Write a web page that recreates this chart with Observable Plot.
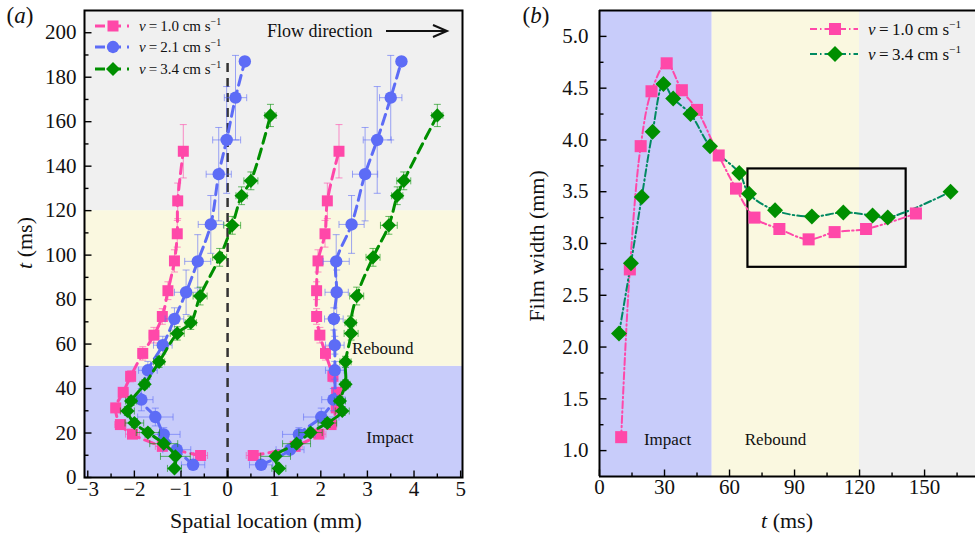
<!DOCTYPE html>
<html>
<head>
<meta charset="utf-8">
<script src="https://cdn.jsdelivr.net/npm/d3@7"></script>
<script src="https://cdn.jsdelivr.net/npm/@observablehq/plot@0.6"></script>
<style>
  html, body { margin: 0; padding: 0; background: #fff; }
  #fig { position: relative; width: 975px; height: 542px; overflow: hidden; }
  #fig svg { position: absolute; top: 0; overflow: visible; }
  #fig svg text { font-family: "Liberation Serif", "Times New Roman", Times, serif !important; }
</style>
</head>
<body>
<div id="fig"></div>
<script>
// ---------------- Panel (a): film-front positions vs time ----------------
// phases (ms)
const phaseNames = ["Impact", "Rebound", "Late"];
const phaseStartA = [0, 50, 120];
const phaseEndA = [50, 120, 210];

// v = 1.0 cm/s
const pinkT     = [9.9, 14.0, 19.5, 23.8, 31.3, 38.3, 45.5, 55.8, 64.0, 72.4, 84.0, 97.4, 109.6, 124.4, 146.7];
const pinkLeft  = [-0.58, -1.40, -2.04, -2.30, -2.40, -2.24, -2.08, -1.82, -1.58, -1.40, -1.28, -1.14, -1.08, -1.07, -0.95];
const pinkRight = [0.55, 1.45, 1.96, 2.22, 2.33, 2.34, 2.26, 2.10, 1.98, 1.91, 1.91, 1.94, 2.09, 2.14, 2.39];
const pinkXErr  = [0.15, 0.15, 0.15, 0.12, 0.1, 0.1, 0.1, 0.1, 0.1, 0.08, 0.08, 0.08, 0.08, 0.08, 0.08];
const pinkTErr  = [1, 1.5, 1.5, 1.5, 2, 2, 2.5, 3, 3.5, 3.5, 4, 5, 6, 8, 12];

// v = 2.1 cm/s
const blueT     = [5.7, 12.5, 19.4, 27.2, 35.0, 48.2, 59.5, 71.3, 83.3, 97.2, 113.8, 136.4, 151.8, 170.8, 187.1];
const blueLeft  = [-0.74, -1.09, -1.37, -1.55, -1.85, -1.71, -1.39, -1.14, -0.89, -0.64, -0.36, -0.19, -0.02, 0.17, 0.37];
const blueRight = [0.72, 1.34, 1.53, 2.01, 2.27, 2.30, 2.30, 2.28, 2.34, 2.33, 2.66, 2.95, 3.21, 3.50, 3.73];
const blueXErr  = [0.25, 0.3, 0.35, 0.38, 0.25, 0.2, 0.2, 0.2, 0.25, 0.28, 0.27, 0.27, 0.3, 0.24, 0.1];
const blueTErr  = [1.5, 2, 3, 4, 5, 4, 4, 5, 10, 12, 13, 21, 24, 19, 2];

// v = 3.4 cm/s
const greenT     = [4.1, 9.5, 15.2, 20.2, 24.5, 29.9, 34.4, 41.9, 52.0, 64.8, 69.6, 81.6, 99.0, 113.4, 126.7, 133.4, 162.8];
const greenLeft  = [-1.14, -1.12, -1.37, -1.71, -2.00, -2.15, -2.07, -1.78, -1.47, -1.08, -0.79, -0.59, -0.17, 0.10, 0.30, 0.50, 0.92];
const greenRight = [1.10, 1.03, 1.48, 1.78, 2.14, 2.46, 2.41, 2.53, 2.53, 2.65, 2.64, 2.77, 3.12, 3.46, 3.64, 3.78, 4.50];
const greenXErr  = [0.15, 0.32, 0.3, 0.25, 0.2, 0.15, 0.12, 0.1, 0.12, 0.15, 0.12, 0.15, 0.15, 0.18, 0.12, 0.15, 0.12];
const greenTErr  = [1, 1.5, 1.5, 2, 2, 2, 2, 2, 2.5, 3, 3, 4, 4, 4, 4, 4, 5];

const centreLineT = [0, 188];

// axis ticks, panel (a)
const xDomA = [-3.07, 5.04];
const tDomA = [0, 210];
const xMajorA = [-3, -2, -1, 0, 1, 2, 3, 4, 5];
const xMinorA = [-2.5, -1.5, -0.5, 0.5, 1.5, 2.5, 3.5, 4.5];
const tMajorA = [0, 20, 40, 60, 80, 100, 120, 140, 160, 180, 200];
const tMinorA = [10, 30, 50, 70, 90, 110, 130, 150, 170, 190];

// ---------------- Panel (b): film width vs time ----------------
const phaseStartB = [0, 52, 120];
const phaseEndB = [52, 120, 173.5];

const widthT1 = [10, 14, 19, 24, 31, 38, 45, 55, 63, 71.5, 83, 96.5, 108.5, 123, 146];
const width1  = [1.13, 2.75, 3.94, 4.47, 4.74, 4.48, 4.29, 3.85, 3.53, 3.25, 3.14, 3.04, 3.11, 3.14, 3.29];
const widthT3 = [9, 14.5, 19.5, 24.5, 29.5, 34, 42, 51, 64.5, 69, 81, 98, 112.5, 126, 133, 162];
const width3  = [2.13, 2.81, 3.45, 4.08, 4.54, 4.40, 4.25, 3.94, 3.68, 3.48, 3.32, 3.26, 3.30, 3.27, 3.25, 3.50];

const zoomBoxT = [68.5, 141.5];
const zoomBoxW = [2.77, 3.72];

const xDomB = [0, 173.5];
const yDomB = [0.75, 5.25];
const xMajorB = [0, 30, 60, 90, 120, 150];
const xMinorB = [15, 45, 75, 105, 135, 165];
const yMajorB = [1.0, 1.5, 2.0, 2.5, 3.0, 3.5, 4.0, 4.5, 5.0];
const yMinorB = [1.25, 1.75, 2.25, 2.75, 3.25, 3.75, 4.25, 4.75];

// ---------------- styling ----------------
const FONT = '"Liberation Serif", "Times New Roman", Times, serif';
const PINK = "#ff48a9", BLUE = "#5d6cf6", GREEN = "#008f00", TEAL = "#008a62";
const bandFill = ["#c8ccfa", "#faf8e0", "#f0f0f0"];

// custom symbols: tick marks (pointing inward) and error-bar caps
const tickUp = { draw(ctx, size) { const l = Math.sqrt(size / Math.PI); ctx.moveTo(0, 0); ctx.lineTo(0, -2 * l); } };
const tickRight = { draw(ctx, size) { const l = Math.sqrt(size / Math.PI); ctx.moveTo(0, 0); ctx.lineTo(2 * l, 0); } };
const capH = { draw(ctx, size) { const w = Math.sqrt(size / Math.PI); ctx.moveTo(-w, 0); ctx.lineTo(w, 0); } };
const capV = { draw(ctx, size) { const w = Math.sqrt(size / Math.PI); ctx.moveTo(0, -w); ctx.lineTo(0, w); } };

const fmtMinus = d => d < 0 ? "\u2212" + Math.abs(d) : String(d);

const seriesA = [
  { color: PINK, symbol: "square", r: 6.2, t: pinkT, left: pinkLeft, right: pinkRight, xe: pinkXErr, te: pinkTErr },
  { color: BLUE, symbol: "circle", r: 6.2, t: blueT, left: blueLeft, right: blueRight, xe: blueXErr, te: blueTErr },
  { color: GREEN, symbol: "diamond2", r: 6.4, t: greenT, left: greenLeft, right: greenRight, xe: greenXErr, te: greenTErr }
];

function branchMarks(s, xs) {
  const rows = s.t.map((t, i) => ({ t, x: xs[i], xe: s.xe[i], te: s.te[i] }));
  const err = { stroke: s.color, strokeOpacity: 0.6, strokeWidth: 1 };
  return [
    Plot.link(rows, { x1: d => d.x - d.xe, x2: d => d.x + d.xe, y1: "t", y2: "t", ...err }),
    Plot.link(rows, { x1: "x", x2: "x", y1: d => d.t - d.te, y2: d => d.t + d.te, ...err }),
    Plot.dot(rows, { x: d => d.x - d.xe, y: "t", symbol: capV, r: 3.5, fill: "none", ...err }),
    Plot.dot(rows, { x: d => d.x + d.xe, y: "t", symbol: capV, r: 3.5, fill: "none", ...err }),
    Plot.dot(rows, { x: "x", y: d => d.t - d.te, symbol: capH, r: 3.5, fill: "none", ...err }),
    Plot.dot(rows, { x: "x", y: d => d.t + d.te, symbol: capH, r: 3.5, fill: "none", ...err }),
    Plot.line(rows, { x: "x", y: "t", curve: "catmull-rom", stroke: s.color, strokeWidth: 3, strokeDasharray: "10,6" }),
    Plot.dot(rows, { x: "x", y: "t", symbol: s.symbol, r: s.r, fill: s.color })
  ];
}

const bandsA = phaseNames.map((name, i) => ({ name, t1: phaseStartA[i], t2: phaseEndA[i], fill: bandFill[i] }));
const bandsB = phaseNames.map((name, i) => ({ name, t1: phaseStartB[i], t2: phaseEndB[i], fill: bandFill[i] }));

const tickStyle = { stroke: "black", strokeWidth: 1.4, fill: "none" };
const txt = { fontFamily: FONT, fill: "#111" };

const plotA = Plot.plot({
  width: 490, height: 542,
  marginLeft: 84, marginRight: 28, marginTop: 10, marginBottom: 65,
  style: { background: "none", fontFamily: FONT },
  x: { domain: xDomA, axis: null },
  y: { domain: tDomA, axis: null },
  marks: [
    Plot.rect(bandsA, { x1: () => xDomA[0], x2: () => xDomA[1], y1: "t1", y2: "t2", fill: "fill" }),
    Plot.ruleX([0], { y1: centreLineT[0], y2: centreLineT[1], stroke: "#333", strokeWidth: 2.5, strokeDasharray: "9,6" }),
    ...seriesA.flatMap(s => [...branchMarks(s, s.left), ...branchMarks(s, s.right)]),
    Plot.text(["Impact", "Rebound"], { y: [18, 58], frameAnchor: "right", dx: -49, text: d => d, fontSize: 17, ...txt }),
    Plot.dot(xMajorA, { x: d => d, frameAnchor: "bottom", symbol: tickUp, r: 3.5, ...tickStyle }),
    Plot.dot(xMinorA, { x: d => d, frameAnchor: "bottom", symbol: tickUp, r: 2, ...tickStyle }),
    Plot.dot(tMajorA, { y: d => d, frameAnchor: "left", symbol: tickRight, r: 3.5, ...tickStyle }),
    Plot.dot(tMinorA, { y: d => d, frameAnchor: "left", symbol: tickRight, r: 2, ...tickStyle }),
    Plot.text(xMajorA, { x: d => d, frameAnchor: "bottom", dy: 18, text: fmtMinus, fontSize: 21, ...txt }),
    Plot.text(tMajorA, { y: d => d, frameAnchor: "left", dx: -8, textAnchor: "end", text: d => String(d), fontSize: 21, ...txt }),
    Plot.frame({ stroke: "black", strokeWidth: 2 })
  ]
});

const plotB = Plot.plot({
  width: 475, height: 542,
  marginLeft: 99, marginRight: 0, marginTop: 10, marginBottom: 66,
  style: { background: "none", fontFamily: FONT },
  x: { domain: xDomB, axis: null },
  y: { domain: yDomB, axis: null },
  marks: [
    Plot.rect(bandsB, { x1: "t1", x2: "t2", y1: () => yDomB[0], y2: () => yDomB[1], fill: "fill" }),
    Plot.rect([0], { x1: () => zoomBoxT[0], x2: () => zoomBoxT[1], y1: () => zoomBoxW[0], y2: () => zoomBoxW[1], fill: "none", stroke: "black", strokeWidth: 2.2 }),
    Plot.line(widthT1.map((t, i) => ({ t, w: width1[i] })), { x: "t", y: "w", curve: "catmull-rom", stroke: PINK, strokeWidth: 2, strokeDasharray: "7,3,1.5,3" }),
    Plot.line(widthT3.map((t, i) => ({ t, w: width3[i] })), { x: "t", y: "w", curve: "catmull-rom", stroke: TEAL, strokeWidth: 2, strokeDasharray: "7,3,1.5,3" }),
    Plot.dot(widthT1.map((t, i) => ({ t, w: width1[i] })), { x: "t", y: "w", symbol: "square", r: 6.8, fill: PINK }),
    Plot.dot(widthT3.map((t, i) => ({ t, w: width3[i] })), { x: "t", y: "w", symbol: "diamond2", r: 7.2, fill: GREEN }),
    Plot.text(["Impact", "Rebound"], { x: [31.4, 81.2], y: [1.105, 1.105], text: d => d, fontSize: 17, ...txt }),
    Plot.dot(xMajorB, { x: d => d, frameAnchor: "bottom", symbol: tickUp, r: 3.5, ...tickStyle }),
    Plot.dot(xMinorB, { x: d => d, frameAnchor: "bottom", symbol: tickUp, r: 2, ...tickStyle }),
    Plot.dot(yMajorB, { y: d => d, frameAnchor: "left", symbol: tickRight, r: 3.5, ...tickStyle }),
    Plot.dot(yMinorB, { y: d => d, frameAnchor: "left", symbol: tickRight, r: 2, ...tickStyle }),
    Plot.text(xMajorB, { x: d => d, frameAnchor: "bottom", dy: 17, text: d => String(d), fontSize: 21, ...txt }),
    Plot.text(yMajorB, { y: d => d, frameAnchor: "left", dx: -11, textAnchor: "end", text: d => d.toFixed(1), fontSize: 21, ...txt }),
    Plot.ruleY([yDomB[0], yDomB[1]], { stroke: "black", strokeWidth: 2 }),
    Plot.ruleX([xDomB[0]], { stroke: "black", strokeWidth: 2 })
  ]
});

const fig = document.getElementById("fig");
plotA.style.left = "0px";
plotB.style.left = "500px";
fig.appendChild(plotA);
fig.appendChild(plotB);

// ---------------- text and legends ----------------
function addText(svg, { x, y, size, anchor = "middle", rotate = 0, parts }) {
  const t = d3.select(svg).append("text")
    .attr("transform", `translate(${x},${y}) rotate(${rotate})`)
    .attr("text-anchor", anchor)
    .style("font-family", FONT)
    .style("font-size", size + "px")
    .attr("fill", "#111")
    .attr("dy", "0.34em");
  for (const p of parts) {
    const s = t.append("tspan").text(p.text);
    if (p.italic) s.style("font-style", "italic");
    if (p.sup) s.attr("dy", -size * 0.42).style("font-size", (size * 0.66) + "px");
  }
  return t;
}

function vLabel(v) {
  return [
    { text: "v", italic: true },
    { text: "\u2009=\u2009" + v + " cm s" },
    { text: "\u22121", sup: true }
  ];
}

function legendRow(svg, { y, x0, x1, xm, xt, color, lineColor, dash, symbol, size, label, fontSize }) {
  const g = d3.select(svg).append("g");
  g.append("line").attr("x1", x0).attr("x2", x1).attr("y1", y).attr("y2", y)
    .attr("stroke", lineColor).attr("stroke-width", dash === "dd" ? 2 : 3)
    .attr("stroke-dasharray", dash === "dd" ? "7,3,1.5,3" : "10,6");
  g.append("path").attr("d", d3.symbol().type(symbol).size(size)())
    .attr("transform", `translate(${xm},${y})`).attr("fill", color);
  addText(svg, { x: xt, y, size: fontSize, anchor: "start", parts: vLabel(label) });
}

// panel (a) annotations
addText(plotA, { x: 20, y: 15, size: 23, parts: [{ text: "(" }, { text: "a", italic: true }, { text: ")" }] });
addText(plotA, { x: 266, y: 521, size: 22, parts: [{ text: "Spatial location (mm)" }] });
addText(plotA, { x: 25, y: 243, size: 22, rotate: -90, parts: [{ text: "t", italic: true }, { text: " (ms)" }] });
addText(plotA, { x: 267, y: 31, size: 18, anchor: "start", parts: [{ text: "Flow direction" }] });
{
  const g = d3.select(plotA).append("g").attr("stroke", "#111").attr("stroke-width", 2).attr("fill", "none");
  g.append("line").attr("x1", 386).attr("x2", 446).attr("y1", 31).attr("y2", 31);
  g.append("path").attr("d", "M433,25 L447,31 L433,37");
}
legendRow(plotA, { y: 26, x0: 95, x1: 129, xm: 113, xt: 139, color: PINK, lineColor: PINK, dash: "d", symbol: d3.symbolSquare, size: 121, label: "1.0", fontSize: 15 });
legendRow(plotA, { y: 47, x0: 95, x1: 129, xm: 113, xt: 139, color: BLUE, lineColor: BLUE, dash: "d", symbol: d3.symbolCircle, size: 120, label: "2.1", fontSize: 15 });
legendRow(plotA, { y: 69, x0: 95, x1: 129, xm: 113, xt: 139, color: GREEN, lineColor: GREEN, dash: "d", symbol: d3.symbolDiamond2, size: 125, label: "3.4", fontSize: 15 });

// panel (b) annotations (coordinates local to its svg)
addText(plotB, { x: 36, y: 15, size: 23, parts: [{ text: "(" }, { text: "b", italic: true }, { text: ")" }] });
addText(plotB, { x: 287, y: 521, size: 22, parts: [{ text: "t", italic: true }, { text: " (ms)" }] });
addText(plotB, { x: 37, y: 246, size: 22, rotate: -90, parts: [{ text: "Film width (mm)" }] });
legendRow(plotB, { y: 29, x0: 310, x1: 358, xm: 335, xt: 368, color: PINK, lineColor: PINK, dash: "dd", symbol: d3.symbolSquare, size: 144, label: "1.0", fontSize: 17 });
legendRow(plotB, { y: 54, x0: 310, x1: 358, xm: 335, xt: 368, color: GREEN, lineColor: TEAL, dash: "dd", symbol: d3.symbolDiamond2, size: 165, label: "3.4", fontSize: 17 });
</script>
</body>
</html>
